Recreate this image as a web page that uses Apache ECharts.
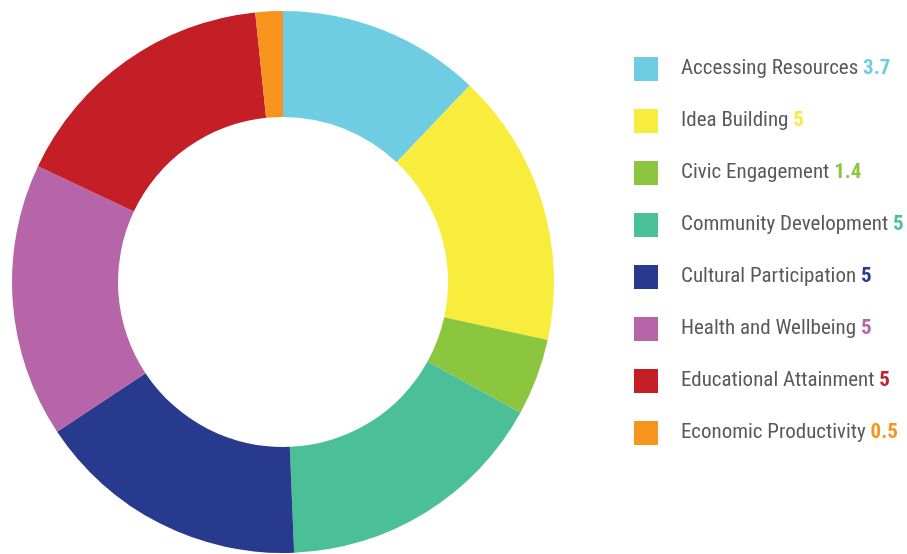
<!DOCTYPE html>
<html><head><meta charset="utf-8">
<script src="https://cdn.jsdelivr.net/npm/echarts@6/dist/echarts.min.js"></script>
<style>html,body{margin:0;padding:0;background:#fff}#c{width:907px;height:554px}</style>
</head><body><div id="c"></div>
<script>
const categories = ['Accessing Resources','Idea Building','Civic Engagement','Community Development','Cultural Participation','Health and Wellbeing','Educational Attainment','Economic Productivity'];
const values = [3.7, 5, 1.4, 5, 5, 5, 5, 0.5];
const valueLabels = ['3.7','5','1.4','5','5','5','5','0.5'];
const colors = ['#6fcde3','#f8ec3c','#8cc63f','#4bbf98','#283a8e','#b565a8','#c41e26','#f7941d'];

const chart = echarts.init(document.getElementById('c'));
const font = '"Roboto Condensed","Liberation Sans Narrow",sans-serif';
const rich = { n: { fontFamily: font, fontSize: 21, color: '#58595b', padding: [0,0,0,18] } };
colors.forEach((c,i)=>{ rich['v'+i] = { fontFamily: font, fontSize: 21, fontWeight: 'bold', color: c }; });

chart.setOption({
  animation: false,
  color: colors,
  legend: {
    orient: 'vertical', left: 634, top: 57, padding: 0,
    itemWidth: 24, itemHeight: 24, itemGap: 28,
    icon: 'rect',
    data: categories,
    formatter: function(name){ const i = categories.indexOf(name); return '{n|' + name + '} {v' + i + '|' + valueLabels[i] + '}'; },
    textStyle: { rich: rich, fontFamily: font, fontSize: 21, color: '#58595b' }
  },
  series: [{
    type: 'pie',
    center: [283, 282],
    radius: [165, 271],
    startAngle: 90,
    clockwise: true,
    label: { show: false },
    labelLine: { show: false },
    emphasis: { disabled: true },
    data: categories.map((n,i)=>({ name: n, value: values[i] }))
  }]
});
</script></body></html>
